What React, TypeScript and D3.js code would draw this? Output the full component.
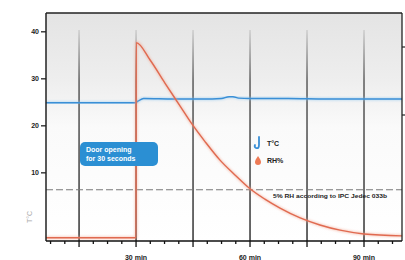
import React from "react";
import * as d3 from "d3";

const tempTimes = [6.3, 29.8, 30.6, 32.0, 40, 50, 52.5, 54.5, 55.5, 57, 60, 70, 80, 90, 100];
const tempValues = [24.9, 24.9, 25.3, 25.8, 25.7, 25.7, 25.8, 26.2, 26.2, 25.9, 25.8, 25.8, 25.7, 25.7, 25.7];

const rhTimes = [6.3, 30, 30.05, 33.7, 37.6, 41.6, 44.7, 48.2, 52.1, 56.1, 60, 63.9, 67.9, 73.2, 78.4, 83.7, 90, 100];
const rhValues = [-3.8, -3.8, 37.7, 34.0, 29.1, 24.2, 20.4, 16.6, 12.7, 9.5, 6.6, 4.4, 2.5, 0.4, -1.1, -2.2, -3.0, -3.4];

const yTicks = [10, 20, 30, 40];
const xMajor = [15, 30, 45, 60, 75, 90];
const xLabels = [
  { t: 30, label: "30 min" },
  { t: 60, label: "60 min" },
  { t: 90, label: "90 min" },
];
const limitValue = 6.4;
const annotationLines = ["Door opening", "for 30 seconds"];
const legendItems = ["T°C", "RH%"];
const limitLabel = "5% RH according to IPC Jedec 033b";

export default function App() {
  const W = 405, H = 260;
  const L = 46, R = 402, T = 13, B = 241;
  const x = d3.scaleLinear().domain([6.3, 100]).range([L, R]);
  const y = d3.scaleLinear().domain([-4.5, 44]).range([B, T]);

  const minor: number[] = [];
  for (let t = 7.5; t <= 100; t += 3.75) minor.push(t);

  const tempLine = d3
    .line<number>()
    .x((_, i) => x(tempTimes[i]))
    .y((d) => y(d))
    .curve(d3.curveMonotoneX)(tempValues) as string;

  const rhLine = d3
    .line<number>()
    .x((_, i) => x(rhTimes[i]))
    .y((d) => y(d))
    .curve(d3.curveMonotoneX)(rhValues) as string;

  const font = "Liberation Sans, Arial, sans-serif";

  return (
    <svg
      width={W}
      height={H}
      style={{ position: "absolute", left: 0, top: 0 }}
      fontFamily={font}
    >
      <defs>
        <linearGradient id="bg" x1="0" y1="0" x2="0" y2="1">
          <stop offset="0" stopColor="#e4e4e4" />
          <stop offset="0.3" stopColor="#eeeeee" />
          <stop offset="0.5" stopColor="#fafafa" />
          <stop offset="1" stopColor="#ffffff" />
        </linearGradient>
        <linearGradient id="vg" gradientUnits="userSpaceOnUse" x1="0" y1={T + 15} x2="0" y2={B}>
          <stop offset="0" stopColor="#cfcfcf" />
          <stop offset="0.25" stopColor="#444" />
          <stop offset="1" stopColor="#111" />
        </linearGradient>
        <filter id="glow" x="-10%" y="-10%" width="120%" height="120%">
          <feGaussianBlur stdDeviation="0.8" />
        </filter>
      </defs>
      <rect x={0} y={0} width={W} height={H} fill="#fff" />
      <rect x={L} y={T} width={R - L} height={B - T} fill="url(#bg)" />

      {xMajor.map((t) => (
        <line
          key={t}
          x1={x(t)}
          x2={x(t)}
          y1={T + 17}
          y2={B}
          stroke="url(#vg)"
          strokeWidth={1.3}
        />
      ))}

      <line
        x1={L}
        x2={R}
        y1={y(limitValue)}
        y2={y(limitValue)}
        stroke="#777"
        strokeWidth={1}
        strokeDasharray="7 3"
      />

      <path d={tempLine} fill="none" stroke="#8cc6f0" strokeWidth={3} opacity={0.5} filter="url(#glow)" />
      <path d={tempLine} fill="none" stroke="#3a8fd6" strokeWidth={1.4} />

      <path d={rhLine} fill="none" stroke="#f2a58f" strokeWidth={3} opacity={0.5} filter="url(#glow)" />
      <path d={rhLine} fill="none" stroke="#e06a50" strokeWidth={1.4} strokeLinejoin="miter" />

      {/* frame */}
      <line x1={L} x2={R} y1={T} y2={T} stroke="#222" strokeWidth={1.5} />
      <line x1={L} x2={L} y1={T} y2={B} stroke="#222" strokeWidth={1.5} />
      <line x1={R} x2={R} y1={T} y2={B} stroke="#222" strokeWidth={1.3} />
      <line x1={L} x2={R} y1={B} y2={B} stroke="#111" strokeWidth={1.5} />
      {[47, 115].map((py) => (
        <line key={py} x1={R} x2={R + 3} y1={py} y2={py} stroke="#222" strokeWidth={1.2} />
      ))}

      {/* y ticks */}
      {yTicks.map((v) => (
        <g key={v}>
          <line x1={L - 5} x2={L} y1={y(v)} y2={y(v)} stroke="#222" strokeWidth={1.3} />
          <text
            x={L - 7}
            y={y(v)}
            dy="0.35em"
            textAnchor="end"
            fontSize={7}
            fontWeight="bold"
            fill="#222"
          >
            {v}
          </text>
        </g>
      ))}

      {/* x ticks */}
      {minor.map((t) => (
        <line
          key={t}
          x1={x(t)}
          x2={x(t)}
          y1={B}
          y2={B + (xMajor.includes(t) ? 6 : 3)}
          stroke="#111"
          strokeWidth={1.3}
        />
      ))}
      {xLabels.map((d) => (
        <text
          key={d.t}
          x={x(d.t)}
          y={259.5}
          textAnchor="middle"
          fontSize={7}
          fontWeight="bold"
          fill="#222"
        >
          {d.label}
        </text>
      ))}

      <text
        transform="translate(32,217) rotate(-90)"
        textAnchor="middle"
        fontSize={7}
        fill="#aaa"
      >
        T°C
      </text>

      {/* annotation */}
      <rect x={80} y={142} width={78} height={24} rx={5} fill="#2b8fd3" />
      {annotationLines.map((s, i) => (
        <text key={s} x={86} y={152 + i * 8.5} fontSize={7} fontWeight={600} fill="#fff">
          {s}
        </text>
      ))}

      {/* legend */}
      <path
        d="M259,137 L259,145 Q259,149 256,148 Q254,147 255,145"
        fill="none"
        stroke="#3a8fd6"
        strokeWidth={1.8}
        strokeLinecap="round"
      />
      <path d="M258,156 Q261,160 261,162 A3,3 0 0 1 255,162 Q255,160 258,156 Z" fill="#ee7a55" />
      {legendItems.map((s, i) => (
        <text key={s} x={267} y={146 + i * 17} fontSize={7} fontWeight="bold" fill="#222">
          {s}
        </text>
      ))}

      <text x={273} y={198} fontSize={5.5} fontWeight="bold" fill="#222" textLength={114} lengthAdjust="spacingAndGlyphs">
        {limitLabel}
      </text>
    </svg>
  );
}
